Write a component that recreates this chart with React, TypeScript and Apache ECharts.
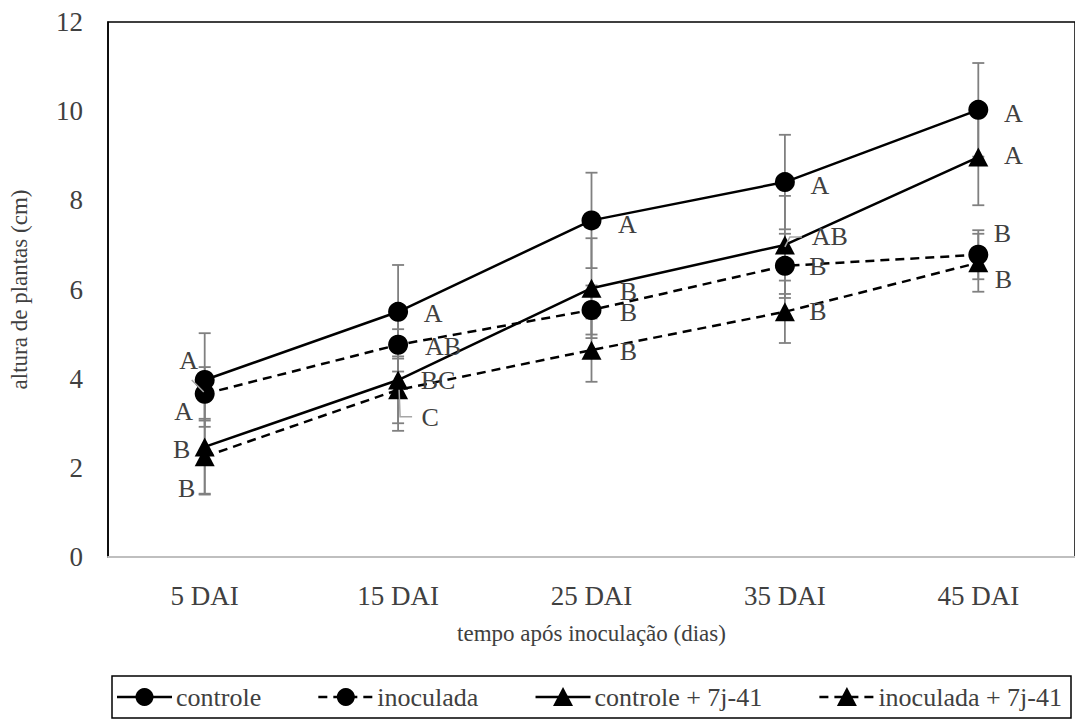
import React, { useEffect, useRef } from "react";
import * as echarts from "echarts";

const categories = ["5 DAI", "15 DAI", "25 DAI", "35 DAI", "45 DAI"];
const seriesNames = ["controle", "inoculada", "controle + 7j-41", "inoculada + 7j-41"];

const controle = [3.97, 5.5, 7.55, 8.41, 10.03];
const controleErr = [1.05, 1.05, 1.07, 1.06, 1.05];
const inoculada = [3.66, 4.76, 5.54, 6.53, 6.78];
const inoculadaErr = [0.6, 0.6, 0.55, 0.72, 0.55];
const controle7j = [2.47, 3.97, 6.03, 7.0, 8.97];
const controle7jErr = [1.05, 1.14, 1.12, 1.1, 1.08];
const inoculada7j = [2.25, 3.75, 4.64, 5.5, 6.6];
const inoculada7jErr = [0.85, 0.75, 0.71, 0.7, 0.65];

const controleLetters = ["A", "A", "A", "A", "A"];
const inoculadaLetters = ["A", "AB", "B", "B", "B"];
const controle7jLetters = ["B", "BC", "B", "AB", "A"];
const inoculada7jLetters = ["B", "C", "B", "B", "B"];

const yMin = 0;
const yMax = 12;
const yInterval = 2;

// layout (pixel offsets of letter labels from their points)
const labelOffsets = [
  [[-16, -20], [35, 2], [36, 4], [35, 3], [35, 4]],
  [[-21, 18], [45, 2], [37, 2], [33, 1], [24, -21]],
  [[-23, 3], [40, 0], [37, 3], [45, -8], [35, -2]],
  [[-18, 32], [32, 28], [37, 1], [33, 0], [25, 17]],
];
// leader lines: [series, index, points relative to data point]
const leaders: [number, number, number[][]][] = [
  [0, 0, [[-13, 0], [-1, 12]]],
  [3, 1, [[1, 0], [2, 27], [14, 27]]],
  [2, 3, [[0, 2], [5, -8], [17, -8]]],
];

const FONT = '"Liberation Serif", "Times New Roman", serif';
const GRAY_TXT = "#404040";
const ERR_COLOR = "#808080";
const LEGEND_FONT_SIZE = 26;

const allValues = [controle, inoculada, controle7j, inoculada7j];
const allErrs = [controleErr, inoculadaErr, controle7jErr, inoculada7jErr];
const allLetters = [controleLetters, inoculadaLetters, controle7jLetters, inoculada7jLetters];
const symbols = ["circle", "circle", "triangle", "triangle"];
const dashed = [false, true, false, true];

function errorSeries(si: number) {
  return {
    type: "custom",
    silent: true,
    z: 1,
    encode: { x: 0, y: 1 },
    data: allValues[si].map((v, i) => [i, v, allErrs[si][i]]),
    renderItem: (params: any, api: any) => {
      const x = api.value(0);
      const y = api.value(1);
      const e = api.value(2);
      const top = api.coord([x, y + e]);
      const bot = api.coord([x, y - e]);
      const hw = 6;
      const style = { stroke: ERR_COLOR, lineWidth: 1.8 };
      return {
        type: "group",
        children: [
          { type: "line", shape: { x1: top[0], y1: top[1], x2: bot[0], y2: bot[1] }, style },
          { type: "line", shape: { x1: top[0] - hw, y1: top[1], x2: top[0] + hw, y2: top[1] }, style },
          { type: "line", shape: { x1: bot[0] - hw, y1: bot[1], x2: bot[0] + hw, y2: bot[1] }, style },
        ],
      };
    },
  };
}

function labelSeries(si: number) {
  return {
    type: "custom",
    silent: true,
    z: 5,
    encode: { x: 0, y: 1 },
    data: allValues[si].map((v, i) => [i, v]),
    renderItem: (params: any, api: any) => {
      const i = params.dataIndex;
      const p = api.coord([api.value(0), api.value(1)]);
      const off = labelOffsets[si][i];
      const children: any[] = [
        {
          type: "text",
          x: p[0] + off[0],
          y: p[1] + off[1],
          style: {
            text: allLetters[si][i],
            fill: GRAY_TXT,
            font: `26px ${FONT}`,
            align: "center",
            verticalAlign: "middle",
          },
        },
      ];
      leaders.forEach(([s, idx, pts]) => {
        if (s === si && idx === i) {
          children.push({
            type: "polyline",
            shape: { points: pts.map((q) => [p[0] + q[0], p[1] + q[1]]) },
            style: { stroke: "#a6a6a6", lineWidth: 1.5, fill: "none" },
          });
        }
      });
      return { type: "group", children };
    },
  };
}

function lineSeries(si: number) {
  return {
    type: "line",
    name: seriesNames[si],
    data: allValues[si],
    z: 3,
    symbol: symbols[si],
    symbolSize: symbols[si] === "circle" ? 20 : [20, 19],
    itemStyle: { color: "#000" },
    lineStyle: { color: "#000", width: 2.5, type: dashed[si] ? [9, 6] : "solid" },
    emphasis: { disabled: true },
  };
}

function measure(text: string, font: string) {
  const c = document.createElement("canvas").getContext("2d");
  if (!c) return text.length * 10;
  c.font = font;
  return c.measureText(text).width;
}

function buildLegend() {
  const els: any[] = [];
  const top = 676;
  const bottom = 718;
  const cy = (top + bottom) / 2;
  els.push({
    type: "rect",
    shape: { x: 112, y: top, width: 959, height: bottom - top },
    style: { fill: "#fff", stroke: "#000", lineWidth: 1.5 },
  });
  const font = `${LEGEND_FONT_SIZE}px ${FONT}`;
  const iconW = 55;
  const iconGap = 4;
  const widths = seriesNames.map((n) => measure(n, font));
  const startX = 117;
  const endX = 1062;
  const total = widths.reduce((a, b) => a + b, 0) + 4 * (iconW + iconGap);
  const gap = (endX - startX - total) / 3;
  let sx = startX;
  seriesNames.forEach((name, si) => {
    els.push({
      type: "line",
      shape: { x1: sx, y1: cy, x2: sx + iconW, y2: cy },
      style: { stroke: "#000", lineWidth: 2.5, lineDash: dashed[si] ? [9, 6] : null },
    });
    const mx = sx + iconW / 2;
    if (symbols[si] === "circle") {
      els.push({ type: "circle", shape: { cx: mx, cy, r: 9 }, style: { fill: "#000" } });
    } else {
      els.push({
        type: "polygon",
        shape: { points: [[mx, cy - 10], [mx + 10, cy + 9], [mx - 10, cy + 9]] },
        style: { fill: "#000" },
      });
    }
    els.push({
      type: "text",
      x: sx + iconW + iconGap,
      y: cy,
      style: {
        text: name,
        fill: GRAY_TXT,
        font,
        align: "left",
        verticalAlign: "middle",
      },
    });
    sx += iconW + iconGap + widths[si] + gap;
  });
  return els;
}

export default function App() {
  const ref = useRef<HTMLDivElement>(null);
  useEffect(() => {
    if (!ref.current) return;
    const chart = echarts.init(ref.current, null, { renderer: "svg" });
    chart.setOption({
      animation: false,
      backgroundColor: "#fff",
      textStyle: { fontFamily: FONT },
      grid: {
        left: 100,
        top: 22,
        width: 980,
        height: 535,
        show: true,
        borderColor: "#000",
        borderWidth: 1.5,
        backgroundColor: "transparent",
      },
      xAxis: {
        type: "category",
        data: categories,
        boundaryGap: true,
        axisLine: { show: true, lineStyle: { color: "#bfbfbf", width: 2 } },
        axisTick: { show: false },
        axisLabel: { color: GRAY_TXT, fontSize: 27, fontFamily: FONT, margin: 25 },
        name: "tempo após inoculação (dias)",
        nameLocation: "middle",
        nameGap: 65,
        nameTextStyle: { color: GRAY_TXT, fontSize: 23, fontFamily: FONT },
        splitLine: { show: false },
      },
      yAxis: {
        type: "value",
        min: yMin,
        max: yMax,
        interval: yInterval,
        axisLine: { show: true, lineStyle: { color: "#000", width: 1.5 } },
        axisTick: { show: false },
        splitLine: { show: false },
        axisLabel: { color: GRAY_TXT, fontSize: 27, fontFamily: FONT, margin: 25 },
        name: "altura de plantas (cm)",
        nameLocation: "middle",
        nameGap: 77,
        nameTextStyle: { color: GRAY_TXT, fontSize: 23, fontFamily: FONT },
      },
      series: [
        ...[0, 1, 2, 3].map(errorSeries),
        ...[0, 1, 2, 3].map(lineSeries),
        ...[0, 1, 2, 3].map(labelSeries),
      ],
      graphic: buildLegend(),
    });
    return () => chart.dispose();
  }, []);
  return (
    <div
      ref={ref}
      style={{ position: "absolute", left: 0, top: 0, width: 1075, height: 726 }}
    />
  );
}
